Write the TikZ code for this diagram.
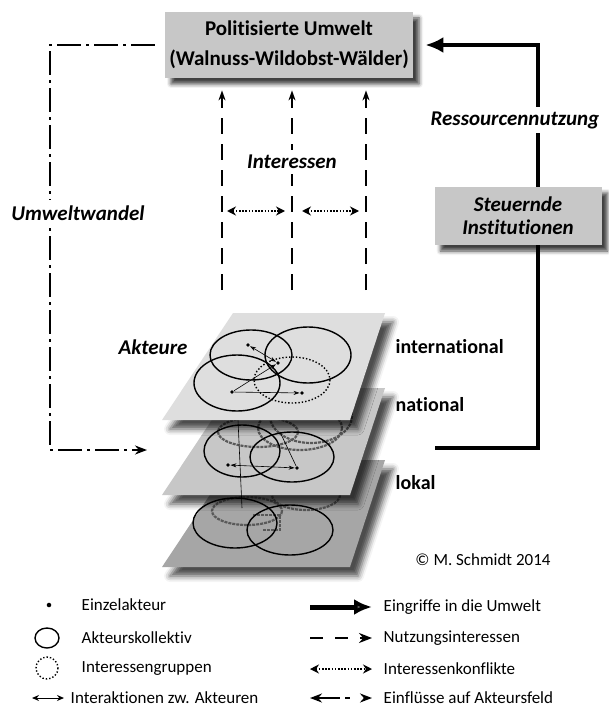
\documentclass[tikz,border=0pt]{standalone}
\usepackage{fontspec}
\setmainfont{Carlito}[Ligatures=NoCommon]
\usetikzlibrary{arrows.meta,calc,shadows.blur}

\tikzset{
	kasten/.style = {fill=black!22, align=center, blur shadow={shadow xshift=6pt, shadow yshift=-6pt, shadow blur radius=4pt, shadow opacity=75}},
	ebene/.style = {blur shadow={shadow xshift=8pt, shadow yshift=-9pt, shadow blur radius=6pt, shadow opacity=70}},
	kollektiv/.style = {line width=1.4pt},
	gruppe/.style = {line width=1.4pt, dash pattern=on 1.4pt off 2pt},
	schemen/.style = {line width=2.2pt, black!65, dash pattern=on 3pt off 1pt},
	akteur/.style = {circle, fill, inner sep=1.4pt},
	interaktion/.style = {line width=0.6pt, >={Stealth[length=6pt,width=4pt]}},
	nutzung/.style = {line width=2.4pt, dash pattern=on 16pt off 10pt, -{Stealth[length=10pt,width=7pt]}},
	konflikt/.style = {line width=1.6pt, dash pattern=on 1.6pt off 1.6pt, {Stealth[length=9pt,width=9pt]}-{Stealth[length=9pt,width=9pt]}},
	eingriff/.style = {line width=4pt, -{Latex[length=18pt,width=16pt]}},
	wandel/.style = {line width=2pt, dash pattern=on 24pt off 5pt on 3pt off 5pt, -{Stealth[length=12pt,width=9pt]}},
	titel/.style = {font=\fontsize{21}{23}\selectfont\bfseries\itshape},
	ebenentitel/.style = {anchor=west, font=\fontsize{20}{22}\selectfont\bfseries},
	legende/.style = {anchor=west, font=\fontsize{17}{19}\selectfont},
}

\begin{document}
\begin{tikzpicture}[> = Stealth, thick, x=1pt, y=-1pt]
	\useasboundingbox (0,0) rectangle (609,708);

	\node[kasten, minimum width=248pt, minimum height=66pt, font=\fontsize{21}{30}\selectfont\bfseries] (pu) at (289,45) {Politisierte Umwelt\\(Walnuss-Wildobst-Wälder)};
	\coordinate (rs) at (435,448);
	\coordinate (ecke) at (538,45);
	\draw[eingriff, shorten >=12pt] (rs) -| (ecke) -- (pu.east);
	\node[kasten, minimum width=167pt, minimum height=58pt, titel] (si) at (518,216) {Steuernde\\Institutionen};
	\node[titel, fill=white, inner sep=4pt] (rn) at (515,120) {Ressourcennutzung};

	\coordinate (wk) at (50,450);
	\coordinate (uw) at (147,450);
	\draw[wandel, shorten <=10pt] (pu.west) -| (wk) -- (uw);
	\node[titel, fill=white, inner ysep=6pt] (wl) at (78,213) {Umweltwandel};

	\coordinate (n1) at (222,290);
	\coordinate (n2) at (292,290);
	\coordinate (n3) at (366,290);
	\coordinate (k) at (0,211);
	\draw[nutzung, shorten >=12pt] (n1) -- (n1 |- pu.south);
	\draw[nutzung, shorten >=12pt] (n2) -- (n2 |- pu.south);
	\draw[nutzung, shorten >=12pt] (n3) -- (n3 |- pu.south);
	\node[titel, fill=white, inner ysep=5pt] (in) at (292,162) {Interessen};
	\draw[konflikt] ([xshift=5pt]n1 |- k) -- ([xshift=-7pt]n2 |- k);
	\draw[konflikt] ([xshift=10pt]n2 |- k) -- ([xshift=-7pt]n3 |- k);

	\fill[ebene, black!35] (233,460) -- (385,460) -- (350,567) -- (162,567) -- cycle;
	\draw[schemen] (247,511) ellipse (35 and 14);
	\draw[schemen] (306,495) ellipse (34 and 15);
	\draw[schemen] (253,515) -- (280,515) -- (280,530) -- (262,530);
	\draw[kollektiv] (235,523) ellipse (42 and 25);
	\draw[kollektiv] (290,530) ellipse (43 and 25);

	\fill[ebene, black!22] (233,388) -- (385,388) -- (350,495) -- (162,495) -- cycle;
	\draw[schemen] (258,432) ellipse (40 and 15);
	\draw[schemen] (311,416) ellipse (41 and 27);
	\draw[schemen] (300,428) ellipse (42 and 22);
	\draw[kollektiv] (242,451) ellipse (38 and 26);
	\draw[kollektiv] (292,457) ellipse (42 and 25);
	\node[akteur] (m1) at (228,465) {};
	\node[akteur] (m2) at (297,468) {};
	\draw[interaktion, <->] (m1) -- (m2);
	\draw[interaktion] (m2) -- (280,432);
	\draw[interaktion] (238,420) -- (242,508);

	\fill[ebene, black!13] (233,313) -- (385,313) -- (350,420) -- (162,420) -- cycle;
	\draw[kollektiv] (251,355) ellipse (41 and 25);
	\draw[kollektiv] (308,355) ellipse (43 and 28);
	\draw[kollektiv] (237,383) ellipse (43 and 28);
	\draw[gruppe] (292,380) ellipse (38 and 23);
	\node[akteur] (a1) at (248,345) {};
	\node[akteur] (a2) at (278,363) {};
	\node[akteur] (a3) at (232,392) {};
	\node[akteur] (a4) at (302,393) {};
	\draw[interaktion, <->] (a1) -- (a2);
	\draw[interaktion, ->] (a3) -- (a2);
	\draw[interaktion, ->] (a3) -- (a4);

	\node[titel] (ak) at (153,347) {Akteure};
	\node[ebenentitel] (ei) at (392,347) {international};
	\node[ebenentitel] (en) at (392,405) {national};
	\node[ebenentitel] (el) at (392,483) {lokal};
	\node[font=\fontsize{17}{19}\selectfont] (cp) at (483,560) {© M. Schmidt 2014};

	\node[akteur, inner sep=1.6pt] (s1) at (49,605) {};
	\node[legende] (t1) at (78,605) {Einzelakteur};
	\draw[kollektiv] (47,638) ellipse (12 and 10);
	\node[legende] (t2) at (78,638) {Akteurskollektiv};
	\draw[gruppe] (47,668) ellipse (11 and 11);
	\node[legende] (t3) at (78,668) {Interessengruppen};
	\coordinate (i1) at (32,698);
	\coordinate (i2) at (64,698);
	\draw[line width=1pt, <->, >={Stealth[length=7pt,width=6pt]}] (i1) -- (i2);
	\node[legende] (t4) at (67,698) {Interaktionen zw. Akteuren};

	\coordinate (r1) at (310,607);
	\coordinate (r2) at (310,638);
	\coordinate (r3) at (310,669);
	\coordinate (r4) at (310,698);
	\draw[eingriff, line width=5pt] (r1) -- ++(62,0);
	\node[legende] (u1) at (380,607) {Eingriffe in die Umwelt};
	\draw[nutzung, dash pattern=on 13pt off 12pt, -{Stealth[length=13pt,width=10pt]}] (r2) -- ++(62,0);
	\node[legende] (u2) at (380,638) {Nutzungsinteressen};
	\draw[konflikt] (r3) -- ++(62,0);
	\node[legende] (u3) at (380,669) {Interessenkonflikte};
	\draw[wandel, dash pattern=on 23pt off 5pt on 5pt off 30pt, {Stealth[length=12pt,width=9pt]}-{Stealth[length=12pt,width=9pt]}] (r4) -- ++(62,0);
	\node[legende] (u4) at (380,698) {Einflüsse auf Akteursfeld};
\end{tikzpicture}
\end{document}
